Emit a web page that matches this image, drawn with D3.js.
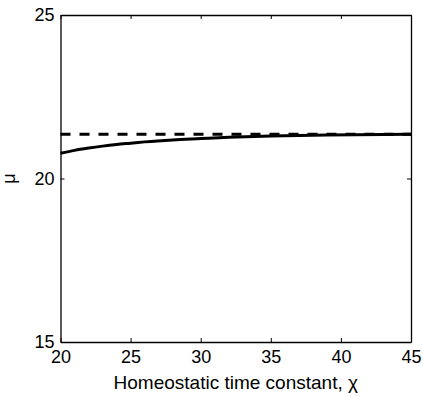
<!DOCTYPE html>
<html>
<head>
<meta charset="utf-8">
<script src="https://cdn.jsdelivr.net/npm/d3@7"></script>
<style>
  body { margin: 0; background: #fff; }
  svg text { font-family: "Liberation Sans", Arial, Helvetica, sans-serif; fill: #000; }
</style>
</head>
<body>
<div id="chart"></div>
<script>
// values
var chiValues = [20, 21, 22, 23, 24, 25, 26, 28, 30, 32, 35, 38, 41, 45];
var muValues  = [20.77, 20.86, 20.93, 20.99, 21.04, 21.08, 21.12, 21.18, 21.22, 21.26, 21.30, 21.32, 21.34, 21.35];
var muLimit   = 21.35;
var xTicks = [20, 25, 30, 35, 40, 45];
var yTicks = [15, 20, 25];
var xLabel = "Homeostatic time constant, \u03C7";
var yLabel = "\u03BC";

var margin = {top: 15, right: 12, bottom: 54, left: 60.5},
    width = 423 - margin.left - margin.right,
    height = 396 - margin.top - margin.bottom;

var xScale = d3.scaleLinear().domain([20, 45]).range([0, width]);
var yScale = d3.scaleLinear().domain([15, 25]).range([height, 0]);

var svg = d3.select("#chart")
  .append("svg")
    .attr("width", 423)
    .attr("height", 396)
  .append("g")
    .attr("transform", "translate(" + margin.left + "," + margin.top + ")");

// axes, ticks pointing inward like matlab
var tickLen = 4;
svg.append("g")
   .attr("class", "x-axis")
   .attr("transform", "translate(0," + height + ")")
   .call(d3.axisBottom(xScale).tickValues(xTicks).tickSizeInner(-tickLen).tickSizeOuter(0).tickPadding(8));

svg.append("g")
   .attr("class", "x-axis-top")
   .call(d3.axisTop(xScale).tickValues(xTicks).tickSizeInner(-tickLen).tickSizeOuter(0).tickFormat(""));

svg.append("g")
   .attr("class", "y-axis")
   .call(d3.axisLeft(yScale).tickValues(yTicks).tickSizeInner(-tickLen).tickSizeOuter(0).tickPadding(6));

svg.append("g")
   .attr("class", "y-axis-right")
   .attr("transform", "translate(" + width + ",0)")
   .call(d3.axisRight(yScale).tickValues(yTicks).tickSizeInner(-tickLen).tickSizeOuter(0).tickFormat(""));

svg.selectAll(".domain").attr("stroke", "#000").attr("stroke-width", 1.3);
svg.selectAll(".tick line").attr("stroke", "#000").attr("stroke-width", 1);
svg.selectAll(".tick text").style("font-size", "18px");

// curves
var line = d3.line()
  .x(function (d) { return xScale(d[0]); })
  .y(function (d) { return yScale(d[1]); })
  .curve(d3.curveMonotoneX);

svg.append("path")
   .datum([[20, muLimit], [45, muLimit]])
   .attr("d", line)
   .attr("fill", "none")
   .attr("stroke", "#000")
   .attr("stroke-width", 3)
   .attr("stroke-dasharray", "10,9");

svg.append("path")
   .datum(chiValues.map(function (c, i) { return [c, muValues[i]]; }))
   .attr("d", line)
   .attr("fill", "none")
   .attr("stroke", "#000")
   .attr("stroke-width", 3);

// labels
svg.append("text")
   .attr("x", width / 2)
   .attr("y", height + 47)
   .style("text-anchor", "middle")
   .style("font-size", "19px")
   .text(xLabel);

svg.append("text")
   .attr("transform", "translate(" + (-margin.left + 15) + "," + (height / 2) + ") rotate(-90)")
   .style("text-anchor", "middle")
   .style("font-size", "18px")
   .text(yLabel);
</script>
</body>
</html>
